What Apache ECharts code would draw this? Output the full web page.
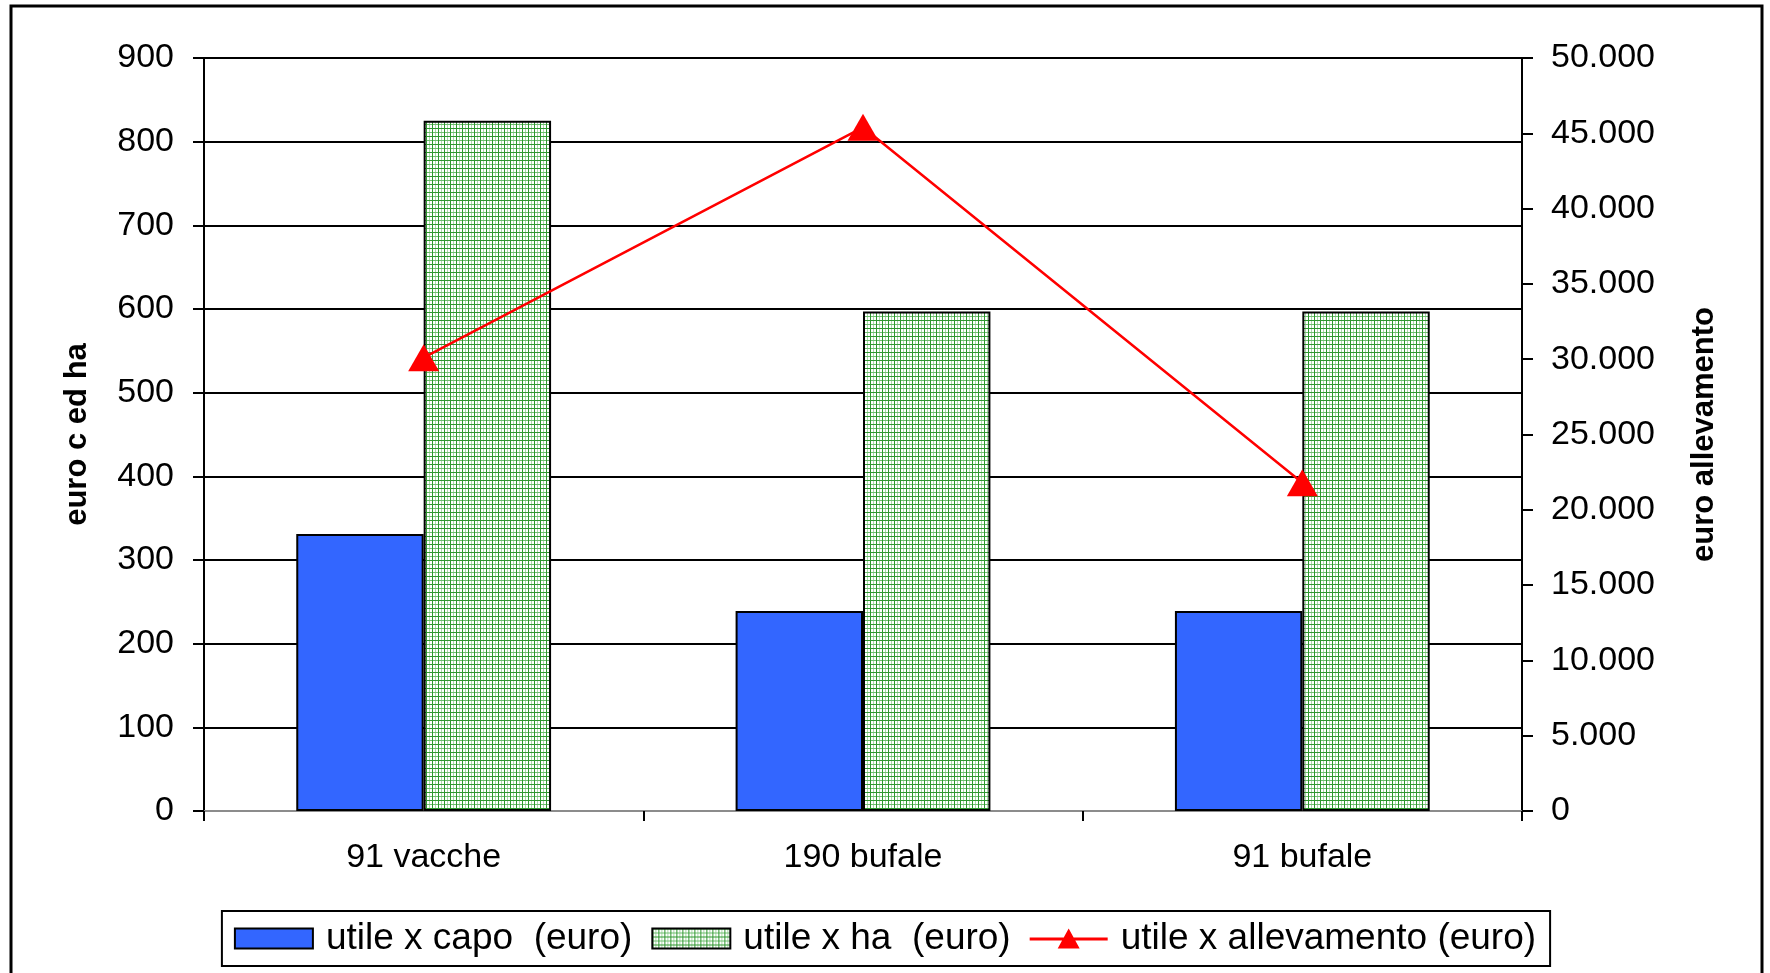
<!DOCTYPE html>
<html>
<head>
<meta charset="utf-8">
<script src="https://cdn.jsdelivr.net/npm/echarts@6/dist/echarts.min.js"></script>
<style>
html,body{margin:0;padding:0;background:#fff;}
#chart{width:1770px;height:973px;}
</style>
</head>
<body>
<div id="chart"></div>
<script>
const categories = ['91 vacche', '190 bufale', '91 bufale'];
const capoValues = [331, 239, 239];
const haValues = [825, 597, 597];
const allevamentoValues = [30100, 45400, 21800];
const seriesNames = ['utile x capo  (euro)', 'utile x ha  (euro)', 'utile x allevamento (euro)'];
const leftAxisName = 'euro c ed ha';
const rightAxisName = 'euro allevamento';

function makePattern() {
  const c = document.createElement('canvas');
  c.width = 6; c.height = 8;
  const ctx = c.getContext('2d');
  ctx.fillStyle = '#ffffff';
  ctx.fillRect(0, 0, 6, 8);
  ctx.fillStyle = '#a9d9a9';
  ctx.fillRect(3, 0, 1, 8);
  ctx.fillStyle = '#6fbf6f';
  ctx.fillRect(0, 4, 6, 1);
  ctx.fillStyle = '#2f972f';
  ctx.fillRect(0, 0, 1, 8);
  ctx.fillRect(0, 0, 6, 1);
  return c;
}

const chart = echarts.init(document.getElementById('chart'), null, {renderer: 'canvas'});
const font = 'Liberation Sans, Arial, sans-serif';

chart.setOption({
  backgroundColor: '#ffffff',
  animation: false,
  graphic: [{
    type: 'rect',
    shape: {x: 11, y: 6, width: 1751, height: 980},
    style: {fill: 'none', stroke: '#000', lineWidth: 3},
    silent: true,
    z: 100
  }],
  grid: {left: 204, right: 248, top: 58, bottom: 162},
  legend: {
    left: 'center',
    top: 911,
    padding: [9, 14, 9, 12],
    borderColor: '#000',
    borderWidth: 2,
    itemGap: 19,
    itemWidth: 78,
    itemHeight: 20,
    textStyle: {fontFamily: font, fontSize: 37, color: '#000', padding: [0, 0, 0, 8]},
    data: [
      {name: seriesNames[0], icon: 'rect'},
      {name: seriesNames[1], icon: 'rect'},
      {name: seriesNames[2], icon: 'path://M0,9 L78,9 L78,12 L0,12 Z M39,0 L50,20 L28,20 Z'}
    ]
  },
  xAxis: [{
    type: 'category',
    data: categories,
    boundaryGap: true,
    axisLine: {lineStyle: {color: '#000', width: 2}},
    axisTick: {show: true, length: 10, lineStyle: {color: '#000', width: 2}},
    axisLabel: {fontFamily: font, fontSize: 34, color: '#000', margin: 30},
    splitLine: {show: false}
  }, {
    type: 'category',
    data: categories,
    position: 'top',
    axisLine: {lineStyle: {color: '#8c8c8c', width: 2}},
    axisTick: {show: false},
    axisLabel: {show: false}
  }],
  yAxis: [{
    type: 'value',
    min: 0, max: 900, interval: 100,
    name: leftAxisName,
    nameLocation: 'middle',
    nameRotate: 90,
    nameGap: 111,
    nameTextStyle: {fontFamily: font, fontSize: 31, fontWeight: 'bold', color: '#000'},
    axisLine: {show: true, lineStyle: {color: '#000', width: 2}},
    axisTick: {show: true, length: 11, lineStyle: {color: '#000', width: 2}},
    axisLabel: {fontFamily: font, fontSize: 34, color: '#000', margin: 30},
    splitLine: {show: true, lineStyle: {color: '#000', width: 2}}
  }, {
    type: 'value',
    min: 0, max: 50000, interval: 5000,
    position: 'right',
    name: rightAxisName,
    nameLocation: 'middle',
    nameRotate: 90,
    nameGap: 167,
    nameTextStyle: {fontFamily: font, fontSize: 31, fontWeight: 'bold', color: '#000'},
    axisLine: {show: true, lineStyle: {color: '#000', width: 2}},
    axisTick: {show: true, length: 11, lineStyle: {color: '#000', width: 2}},
    axisLabel: {
      fontFamily: font, fontSize: 34, color: '#000', margin: 29,
      formatter: function (v) { return v === 0 ? '0' : String(v).replace(/\B(?=(\d{3})+(?!\d))/g, '.'); }
    },
    splitLine: {show: false}
  }],
  series: [{
    name: seriesNames[0],
    type: 'bar',
    data: capoValues,
    barGap: '0%',
    barCategoryGap: '42%',
    itemStyle: {color: '#3366ff', borderColor: '#000', borderWidth: 2}
  }, {
    name: seriesNames[1],
    type: 'bar',
    data: haValues,
    itemStyle: {color: {image: makePattern(), repeat: 'repeat'}, borderColor: '#000', borderWidth: 2}
  }, {
    name: seriesNames[2],
    type: 'line',
    yAxisIndex: 1,
    data: allevamentoValues,
    symbol: 'triangle',
    symbolSize: [31, 27],
    lineStyle: {color: '#ff0000', width: 2.5},
    itemStyle: {color: '#ff0000'},
    z: 10
  }]
});
</script>
</body>
</html>
